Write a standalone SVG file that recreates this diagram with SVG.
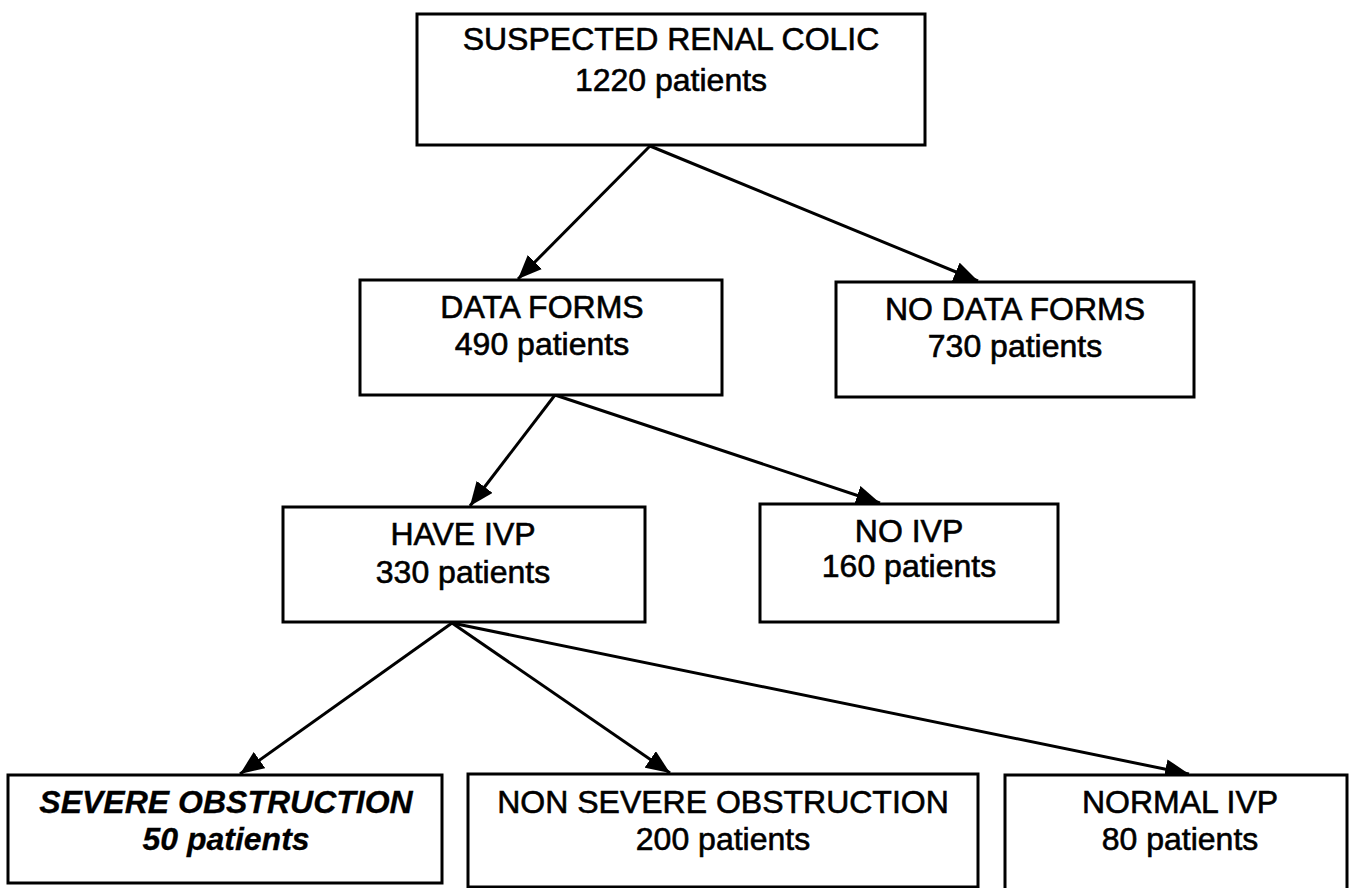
<svg xmlns="http://www.w3.org/2000/svg" width="1353" height="888" viewBox="0 0 1353 888">
  <style>
    .box { fill: #ffffff; stroke: #000000; stroke-width: 3; }
    .lbl { font-family: "Liberation Sans", Arial, sans-serif; font-size: 32px; fill: #000000; stroke: #000000; stroke-width: 0.6; text-anchor: middle; }
    .em { font-weight: bold; font-style: italic; stroke-width: 0.3; }
    .edge { stroke: #000000; stroke-width: 3; fill: none; marker-end: url(#head); }
  </style>
  <defs>
    <!-- solid triangular arrowhead, tip sits on the box border -->
    <marker id="head" viewBox="0 0 24 20" refX="24" refY="10" markerWidth="24" markerHeight="20" markerUnits="userSpaceOnUse" orient="auto">
      <path d="M0,0 L24,10 L0,20 Z" fill="#000000"/>
    </marker>
  </defs>
  <rect width="1353" height="888" fill="#ffffff"/>

  <g id="connectors">
    <line class="edge" x1="650" y1="146" x2="518" y2="279"/>
    <line class="edge" x1="650" y1="146" x2="978" y2="281"/>
    <line class="edge" x1="555" y1="395" x2="470" y2="506"/>
    <line class="edge" x1="555" y1="395" x2="880" y2="503"/>
    <line class="edge" x1="452" y1="623" x2="240" y2="774"/>
    <line class="edge" x1="452" y1="623" x2="670" y2="773"/>
    <line class="edge" x1="452" y1="623" x2="1189" y2="774"/>
  </g>

  <g id="suspected-renal-colic">
    <rect class="box" x="417" y="14" width="508" height="131"/>
    <text class="lbl" x="671" y="50">SUSPECTED RENAL COLIC</text>
    <text class="lbl" x="671" y="91">1220 patients</text>
  </g>

  <g id="data-forms">
    <rect class="box" x="360" y="280" width="362" height="115"/>
    <text class="lbl" x="542" y="318">DATA FORMS</text>
    <text class="lbl" x="542" y="355">490 patients</text>
  </g>

  <g id="no-data-forms">
    <rect class="box" x="836" y="282" width="358" height="115"/>
    <text class="lbl" x="1015" y="320">NO DATA FORMS</text>
    <text class="lbl" x="1015" y="357">730 patients</text>
  </g>

  <g id="have-ivp">
    <rect class="box" x="283" y="507" width="362" height="115"/>
    <text class="lbl" x="463" y="545">HAVE IVP</text>
    <text class="lbl" x="463" y="583">330 patients</text>
  </g>

  <g id="no-ivp">
    <rect class="box" x="760" y="504" width="298" height="118"/>
    <text class="lbl" x="909" y="542">NO IVP</text>
    <text class="lbl" x="909" y="577">160 patients</text>
  </g>

  <g id="severe-obstruction">
    <rect class="box" x="8" y="775" width="434" height="108"/>
    <text class="lbl em" x="226" y="813">SEVERE OBSTRUCTION</text>
    <text class="lbl em" x="226" y="850">50 patients</text>
  </g>

  <g id="non-severe-obstruction">
    <rect class="box" x="468" y="774" width="510" height="113"/>
    <text class="lbl" x="723" y="813">NON SEVERE OBSTRUCTION</text>
    <text class="lbl" x="723" y="850">200 patients</text>
  </g>

  <g id="normal-ivp">
    <rect class="box" x="1005" y="775" width="342" height="120"/>
    <text class="lbl" x="1180" y="813">NORMAL IVP</text>
    <text class="lbl" x="1180" y="850">80 patients</text>
  </g>
</svg>
